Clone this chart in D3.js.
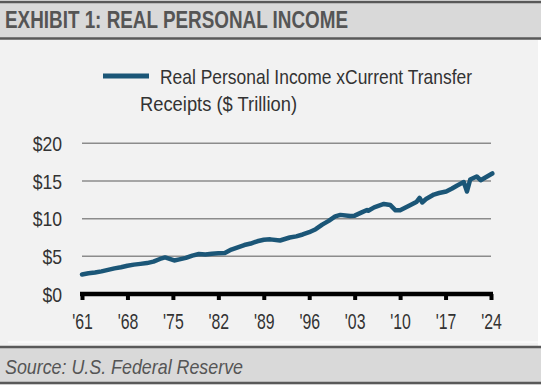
<!DOCTYPE html>
<html>
<head>
<meta charset="utf-8">
<script src="https://cdn.jsdelivr.net/npm/d3@7.9.0/dist/d3.min.js"></script>
<style>
  body { margin: 0; background: #fff; }
  svg text { font-family: "Liberation Sans Narrow", "Liberation Sans", Arial, sans-serif; }
</style>
</head>
<body>
<svg id="chart" width="541" height="385"></svg>
<script>
// real personal income ex current transfer receipts, $ trillion
const years = [1961, 1962, 1963, 1964, 1965, 1966, 1967, 1968, 1969, 1970,
  1971, 1972, 1973, 1973.8, 1974.5, 1975.2, 1976, 1977, 1978, 1979,
  1980, 1981, 1982, 1983, 1984, 1985, 1986, 1987, 1988, 1989,
  1990, 1991.5, 1993, 1994, 1995, 1996, 1997, 1998, 1999, 2000,
  2000.8, 2002.3, 2003, 2004, 2004.9, 2005.1, 2006, 2007.5, 2008.5, 2009.3,
  2010, 2011.6, 2012.5, 2013, 2013.4, 2014, 2015.2, 2016, 2017.1, 2018,
  2018.8, 2019.8, 2020.3, 2020.8, 2021.8, 2022.4, 2023, 2024.2];
const income = [2.6, 2.75, 2.85, 3.0, 3.2, 3.4, 3.55, 3.75, 3.9, 4.0,
  4.1, 4.3, 4.65, 4.85, 4.65, 4.45, 4.6, 4.8, 5.1, 5.3,
  5.25, 5.35, 5.4, 5.45, 5.9, 6.2, 6.5, 6.7, 7.0, 7.2,
  7.25, 7.1, 7.5, 7.65, 7.9, 8.2, 8.6, 9.2, 9.7, 10.3,
  10.5, 10.35, 10.4, 10.8, 11.15, 11.05, 11.5, 11.95, 11.8, 11.1,
  11.1, 11.8, 12.2, 12.75, 12.15, 12.6, 13.2, 13.4, 13.6, 14.0,
  14.4, 14.85, 13.6, 15.2, 15.6, 15.1, 15.4, 16.0];

const yTicks = [0, 5, 10, 15, 20];
const xTicks = [1961, 1968, 1975, 1982, 1989, 1996, 2003, 2010, 2017, 2024];

const data = years.map((y, i) => ({ year: y, value: income[i] }));

const svg = d3.select("#chart");
const W = 541, H = 385;

// backgrounds
svg.append("rect").attr("x", 0).attr("y", 0).attr("width", W).attr("height", H).attr("fill", "#f2f2f2");
svg.append("rect").attr("x", 538).attr("y", 40).attr("width", 3).attr("height", 306).attr("fill", "#fff");

// header band
svg.append("rect").attr("x", 0).attr("y", 1).attr("width", W).attr("height", 38).attr("fill", "#d9d9d9");
svg.append("line").attr("x1", 0).attr("x2", W).attr("y1", 2).attr("y2", 2).attr("stroke", "#595959").attr("stroke-width", 2.5);
svg.append("line").attr("x1", 0).attr("x2", W).attr("y1", 38.5).attr("y2", 38.5).attr("stroke", "#595959").attr("stroke-width", 2.5);
svg.append("text")
  .attr("x", 5).attr("y", 28)
  .attr("font-size", 23).attr("font-weight", "bold").attr("fill", "#555")
  .attr("textLength", 343).attr("lengthAdjust", "spacingAndGlyphs")
  .text("EXHIBIT 1: REAL PERSONAL INCOME");

// footer band
svg.append("line").attr("x1", 8).attr("x2", W).attr("y1", 342).attr("y2", 342).attr("stroke", "#fff").attr("stroke-width", 1);
svg.append("rect").attr("x", 0).attr("y", 347).attr("width", W).attr("height", 36).attr("fill", "#d9d9d9");
svg.append("line").attr("x1", 0).attr("x2", W).attr("y1", 347).attr("y2", 347).attr("stroke", "#595959").attr("stroke-width", 2.5);
svg.append("line").attr("x1", 0).attr("x2", W).attr("y1", 383).attr("y2", 383).attr("stroke", "#595959").attr("stroke-width", 2.5);
svg.append("text")
  .attr("x", 5).attr("y", 374)
  .attr("font-size", 21).attr("font-style", "italic").attr("fill", "#555")
  .attr("textLength", 238).attr("lengthAdjust", "spacingAndGlyphs")
  .text("Source: U.S. Federal Reserve");

// scales
const x = d3.scaleLinear().domain([1961, 2024]).range([82, 491]);
const y = d3.scaleLinear().domain([0, 20]).range([294, 143.3]);

// gridlines
svg.append("g")
  .selectAll("line")
  .data(yTicks.filter(d => d > 0))
  .join("line")
  .attr("x1", 82).attr("x2", 491)
  .attr("y1", d => y(d)).attr("y2", d => y(d))
  .attr("stroke", "#8c8c8c").attr("stroke-width", 1.5);

// y labels
const yAxis = svg.append("g")
  .attr("transform", "translate(62,0)")
  .call(d3.axisLeft(y).tickValues(yTicks).tickSize(0).tickPadding(0).tickFormat(d => "$" + d));
yAxis.select(".domain").remove();
yAxis.selectAll("text")
  .attr("font-size", 20).attr("fill", "#333").attr("dy", "0.36em")
  .attr("transform", "scale(0.88,1)");

// x axis
const xAxis = svg.append("g")
  .attr("transform", "translate(0,294)")
  .call(d3.axisBottom(x).tickValues(xTicks).tickSize(6).tickPadding(13)
    .tickFormat(d => "'" + String(d).slice(2)));
xAxis.select(".domain")
  .attr("d", "M80,0H493")
  .attr("stroke", "#000").attr("stroke-width", 4.5);
xAxis.selectAll(".tick line").attr("stroke", "#000").attr("stroke-width", 4);
xAxis.selectAll("text")
  .attr("font-size", 22).attr("fill", "#333")
  .attr("transform", "scale(0.72,1)");

// series line
const line = d3.line()
  .x(d => x(d.year))
  .y(d => y(d.value));

svg.append("path")
  .datum(data)
  .attr("fill", "none")
  .attr("stroke", "#1b5677")
  .attr("stroke-width", 4.5)
  .attr("stroke-linejoin", "round")
  .attr("stroke-linecap", "round")
  .attr("d", line);

// legend
svg.append("line")
  .attr("x1", 103).attr("x2", 149).attr("y1", 76).attr("y2", 76)
  .attr("stroke", "#1b5677").attr("stroke-width", 5);
svg.append("text")
  .attr("x", 160).attr("y", 84)
  .attr("font-size", 21).attr("fill", "#333")
  .attr("textLength", 312).attr("lengthAdjust", "spacingAndGlyphs")
  .text("Real Personal Income xCurrent Transfer");
svg.append("text")
  .attr("x", 140).attr("y", 111)
  .attr("font-size", 21).attr("fill", "#333")
  .attr("textLength", 157).attr("lengthAdjust", "spacingAndGlyphs")
  .text("Receipts ($ Trillion)");
</script>
</body>
</html>
